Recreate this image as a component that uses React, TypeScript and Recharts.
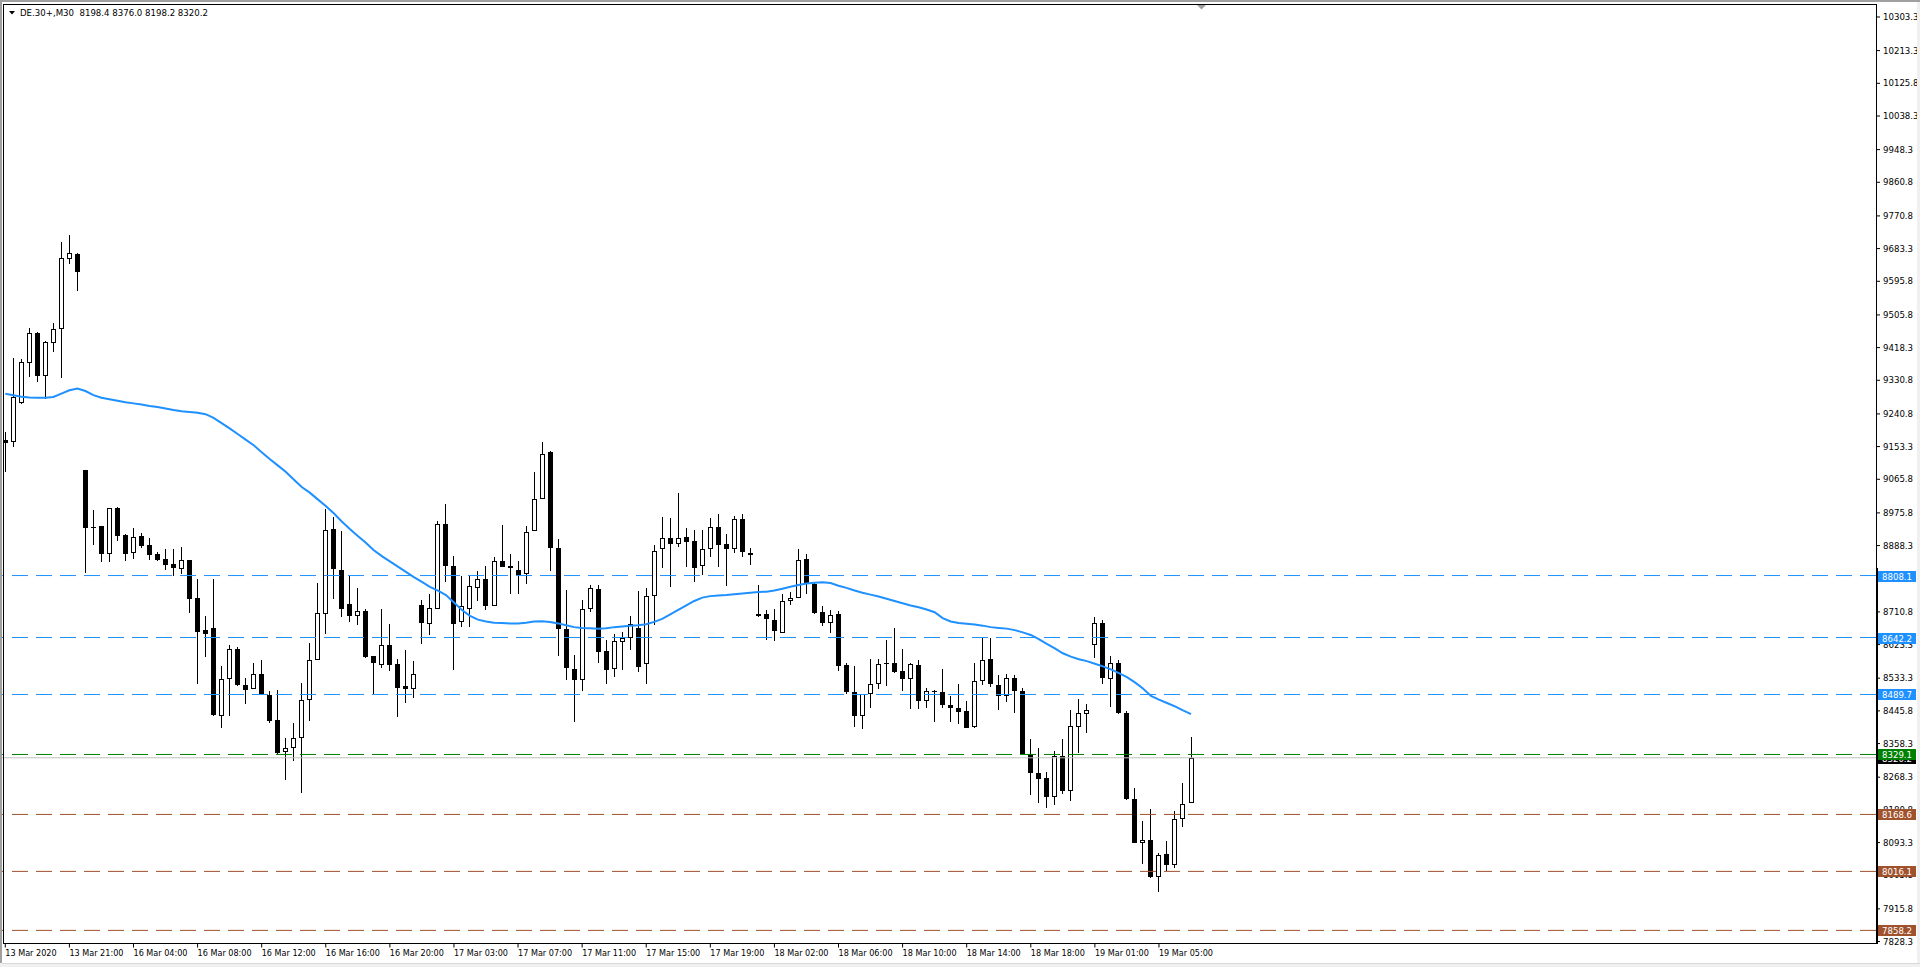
import { ComposedChart, Bar, Line, XAxis, YAxis, ReferenceLine } from "recharts";

// DE.30+ M30 candles, 13 Mar 17:00 .. 19 Mar 07:00
const open = [
  9170.5, 9164.3, 9268.7, 9375.8, 9456.2, 9342.8, 9429.4, 9466.9, 9654.4, 9668.6,
  9090.2, 8938.4, 8940.2, 8867.0, 8990.2, 8916.1, 8869.7, 8915.2, 8889.3, 8865.2,
  8853.6, 8838.5, 8826.9, 8849.1, 8749.1, 8661.6, 8668.8, 8433.1, 8532.2, 8612.5,
  8516.2, 8505.4, 8543.8, 8489.4, 8420.6, 8335.8, 8347.4, 8374.2, 8476.0, 8583.1,
  8706.3, 8932.2, 8822.4, 8733.1, 8700.1, 8712.5, 8592.0, 8569.7, 8623.3, 8572.4,
  8511.7, 8505.4, 8728.6, 8679.5, 8719.7, 8947.3, 8834.9, 8684.0, 8719.7, 8776.0,
  8800.1, 8726.9, 8848.3, 8833.1, 8824.2, 8813.4, 8928.6, 9014.3, 9139.3, 8883.1,
  8664.4, 8559.0, 8529.6, 8717.9, 8773.3, 8607.2, 8559.0, 8631.3, 8642.0, 8668.8,
  8572.4, 8754.5, 8880.4, 8909.8, 8893.8, 8912.5, 8901.8, 8833.1, 8880.4, 8938.4,
  8893.8, 8880.4, 8960.7, 8869.7, 8704.5, 8704.5, 8690.3, 8655.4, 8740.2, 8749.2,
  8853.6, 8786.7, 8709.9, 8681.3, 8704.5, 8568.0, 8497.4, 8432.3, 8490.3, 8518.9,
  8574.2, 8575.1, 8551.9, 8532.3, 8569.7, 8472.4, 8498.3, 8497.4, 8462.6, 8454.6,
  8446.5, 8402.8, 8526.0, 8585.8, 8516.2, 8485.8, 8534.9, 8498.3, 8331.4, 8280.5,
  8267.1, 8215.3, 8324.2, 8231.4, 8402.8, 8438.5, 8623.3, 8682.2, 8532.2, 8575.1,
  8441.2, 8210.9, 8093.0, 8101.1, 8001.1, 8063.6, 8034.1, 8157.3, 8198.4,
];

const high = [
  9192.8, 9389.2, 9386.6, 9469.6, 9458.9, 9435.7, 9483.0, 9699.9, 9719.5, 9670.4,
  9090.2, 8984.8, 8942.0, 8990.2, 8991.0, 8920.6, 8936.6, 8923.2, 8909.8, 8870.6,
  8880.4, 8880.4, 8884.0, 8850.0, 8798.2, 8699.1, 8798.2, 8565.2, 8621.4, 8616.0,
  8533.5, 8575.1, 8583.1, 8498.3, 8501.0, 8374.2, 8414.4, 8520.6, 8628.6, 8789.3,
  8985.7, 8965.2, 8926.8, 8806.3, 8775.9, 8718.8, 8592.0, 8717.9, 8677.7, 8585.8,
  8608.1, 8578.6, 8742.0, 8759.9, 8953.6, 8999.1, 8861.6, 8806.3, 8807.2, 8819.7,
  8833.1, 8857.2, 8942.9, 8865.2, 8846.5, 8940.2, 9085.7, 9164.3, 9141.1, 8905.4,
  8768.8, 8594.7, 8742.0, 8782.2, 8782.2, 8634.9, 8651.0, 8656.3, 8700.9, 8766.1,
  8776.0, 8891.1, 8966.1, 8963.4, 9030.4, 8936.6, 8929.5, 8929.5, 8963.4, 8974.1,
  8920.6, 8967.0, 8972.3, 8883.1, 8782.2, 8715.3, 8719.7, 8759.9, 8764.3, 8880.4,
  8865.2, 8791.1, 8726.0, 8715.3, 8712.6, 8574.2, 8565.3, 8492.1, 8585.8, 8585.8,
  8634.9, 8668.8, 8612.6, 8575.1, 8581.3, 8508.1, 8502.8, 8559.0, 8484.9, 8517.1,
  8471.5, 8575.1, 8642.1, 8641.2, 8541.2, 8543.9, 8541.2, 8508.1, 8371.5, 8347.4,
  8282.3, 8337.6, 8369.8, 8447.4, 8478.7, 8463.5, 8697.4, 8688.5, 8592.0, 8583.1,
  8445.6, 8240.3, 8150.2, 8184.1, 8066.3, 8096.6, 8176.9, 8252.8, 8376.0,
];

const low = [
  9085.7, 9152.7, 9266.9, 9340.1, 9326.7, 9280.3, 9405.3, 9335.7, 9641.0, 9570.5,
  8815.2, 8889.3, 8844.7, 8844.7, 8900.9, 8847.4, 8852.7, 8883.1, 8850.9, 8847.4,
  8824.2, 8808.1, 8811.7, 8708.0, 8517.0, 8590.2, 8431.3, 8400.1, 8432.2, 8511.7,
  8464.0, 8505.4, 8490.3, 8414.4, 8331.4, 8260.0, 8311.7, 8226.0, 8418.9, 8583.1,
  8651.0, 8746.5, 8697.4, 8684.0, 8675.1, 8587.6, 8490.3, 8560.8, 8552.8, 8429.6,
  8467.1, 8480.4, 8624.2, 8648.3, 8719.7, 8791.1, 8554.6, 8670.6, 8670.6, 8740.2,
  8715.2, 8726.9, 8831.3, 8758.1, 8758.1, 8784.9, 8928.6, 9014.3, 8820.6, 8593.0,
  8527.8, 8416.2, 8499.2, 8710.8, 8574.2, 8518.9, 8536.7, 8554.6, 8609.9, 8550.1,
  8518.9, 8676.9, 8829.5, 8777.7, 8884.9, 8831.3, 8791.1, 8809.0, 8858.1, 8831.3,
  8780.4, 8868.8, 8858.1, 8835.8, 8697.4, 8636.7, 8633.1, 8655.4, 8728.6, 8749.2,
  8758.1, 8704.5, 8672.4, 8654.5, 8552.8, 8490.3, 8402.8, 8396.6, 8453.7, 8505.5,
  8512.6, 8547.4, 8499.2, 8450.1, 8450.1, 8453.7, 8416.2, 8453.7, 8416.2, 8411.7,
  8401.0, 8401.0, 8514.4, 8510.0, 8447.4, 8469.7, 8440.3, 8329.6, 8221.6, 8199.3,
  8186.8, 8193.0, 8222.5, 8204.6, 8333.2, 8386.7, 8587.6, 8518.8, 8456.3, 8436.7,
  8208.2, 8092.1, 8035.0, 7999.3, 7960.9, 8016.3, 8025.2, 8135.0, 8198.2,
];

const close = [
  9161.6, 9284.8, 9378.5, 9456.2, 9342.8, 9432.1, 9466.9, 9657.0, 9670.4, 9621.3,
  8936.6, 8936.6, 8867.0, 8990.2, 8914.3, 8867.0, 8911.6, 8887.5, 8864.3, 8849.2,
  8837.6, 8829.5, 8850.0, 8745.5, 8657.2, 8652.7, 8434.0, 8532.2, 8612.5, 8514.4,
  8502.8, 8543.8, 8490.3, 8418.9, 8333.2, 8347.4, 8374.2, 8476.0, 8583.1, 8709.0,
  8929.5, 8825.0, 8719.7, 8700.1, 8712.5, 8590.3, 8574.2, 8623.3, 8568.8, 8507.2,
  8504.6, 8545.6, 8681.3, 8721.5, 8947.3, 8834.0, 8678.6, 8725.9, 8779.5, 8800.1,
  8726.9, 8848.3, 8831.3, 8829.5, 8809.0, 8925.9, 9014.3, 9134.8, 8883.1, 8664.4,
  8561.7, 8529.6, 8719.7, 8776.0, 8603.7, 8556.3, 8632.2, 8642.0, 8679.5, 8563.5,
  8754.0, 8874.1, 8909.8, 8893.8, 8909.8, 8898.2, 8829.5, 8880.4, 8938.4, 8891.1,
  8880.4, 8960.7, 8871.5, 8864.3, 8701.0, 8691.1, 8659.9, 8741.1, 8749.2, 8851.0,
  8788.5, 8708.1, 8681.3, 8703.6, 8566.2, 8496.5, 8432.3, 8492.1, 8518.9, 8572.4,
  8575.1, 8550.1, 8532.3, 8572.4, 8472.4, 8499.2, 8499.2, 8462.6, 8453.7, 8443.0,
  8401.0, 8526.0, 8583.1, 8517.1, 8485.8, 8534.9, 8499.2, 8329.6, 8279.6, 8264.4,
  8215.3, 8324.2, 8231.4, 8404.6, 8441.2, 8449.2, 8682.2, 8534.0, 8574.2, 8440.3,
  8209.1, 8092.1, 8101.1, 8001.1, 8060.9, 8034.1, 8157.3, 8197.5, 8320.2,
];

// moving average as drawn (blue line)
const ma = [
  9295, 9291, 9287, 9285, 9284, 9284, 9286, 9295, 9304, 9309,
  9302, 9291, 9284, 9280, 9276, 9272, 9269, 9266, 9262, 9259,
  9255, 9251, 9248, 9246, 9244, 9240, 9230, 9216, 9202, 9187,
  9172, 9157, 9138, 9120, 9103, 9086, 9065, 9045, 9030, 9012,
  8994, 8975, 8953, 8933, 8914, 8896, 8876, 8860, 8846, 8832,
  8818, 8804, 8791, 8778, 8768, 8756, 8736, 8716, 8700, 8690,
  8685, 8682, 8681, 8680, 8680, 8682, 8685, 8686, 8684, 8680,
  8675, 8670, 8668, 8667, 8666, 8667, 8670, 8672, 8674, 8675,
  8678, 8684, 8692, 8704, 8716, 8728, 8740, 8749, 8753, 8755,
  8756, 8758, 8760, 8762, 8764, 8765, 8768, 8773, 8778, 8783,
  8787, 8789, 8790, 8788, 8781, 8775, 8768, 8762, 8757, 8752,
  8746, 8740, 8734, 8728, 8723, 8717, 8710, 8694, 8685, 8681,
  8679, 8677, 8674, 8670, 8668, 8666, 8662, 8656, 8649, 8638,
  8625, 8613, 8600, 8591, 8584, 8579, 8572, 8565, 8557, 8547,
  8536, 8522, 8506, 8486, 8476, 8467, 8458, 8447, 8437,
];

const tickBars = [0, 8, 16, 24, 32, 40, 48, 56, 64, 72, 80, 88, 96, 104, 112, 120, 128, 136, 144];
const tickLabels = [
  "13 Mar 2020", "13 Mar 21:00", "16 Mar 04:00", "16 Mar 08:00", "16 Mar 12:00",
  "16 Mar 16:00", "16 Mar 20:00", "17 Mar 03:00", "17 Mar 07:00", "17 Mar 11:00",
  "17 Mar 15:00", "17 Mar 19:00", "18 Mar 02:00", "18 Mar 06:00", "18 Mar 10:00",
  "18 Mar 14:00", "18 Mar 18:00", "19 Mar 01:00", "19 Mar 05:00",
];

const priceTicks = [
  10303.3, 10213.3, 10125.8, 10038.3, 9948.3, 9860.8, 9770.8, 9683.3, 9595.8, 9505.8,
  9418.3, 9330.8, 9240.8, 9153.3, 9065.8, 8975.8, 8888.3, 8800.8, 8710.8, 8623.3,
  8533.3, 8445.8, 8358.3, 8268.3, 8180.8, 8093.3, 8005.8, 7915.8, 7828.3,
];

const blueLevels = [8808.1, 8642.2, 8489.7];
const greenLevels = [8329.1];
const brownLevels = [8168.6, 8016.1, 7858.2];
const bidPrice = 8320.2;

const BLUE = "#1e90ff";
const GREEN = "#008000";
const BROWN = "#a0522d";
const FONT = '"DejaVu Sans", Tahoma, sans-serif';
const FS = 8.6;
const SLOTS = 234; // visible bar slots incl. the empty shift area on the right

const rows = Array.from({ length: SLOTS }, (_, i) => ({
  i,
  o: open[i] ?? null,
  h: high[i] ?? null,
  l: low[i] ?? null,
  c: close[i] ?? null,
  ma: ma[i] ?? null,
}));

function levelColor(v: number) {
  if (blueLevels.includes(v)) return BLUE;
  if (greenLevels.includes(v)) return GREEN;
  if (brownLevels.includes(v)) return BROWN;
  if (v === bidPrice) return "#000";
  return null;
}

function Candle(props: any) {
  const { x, y, width, height, payload } = props;
  if (!payload || payload.h == null) return <g />;
  const { o, h, l, c } = payload;
  const k = h > l ? height / (h - l) : 0;
  const cx = Math.floor(x + width / 2) + 0.5;
  const yHi = Math.round(y);
  const yLo = Math.round(y + height);
  const yO = y + (h - o) * k;
  const yC = y + (h - c) * k;
  const top = Math.round(Math.min(yO, yC));
  const bot = Math.round(Math.max(yO, yC));
  const up = c >= o;
  let body;
  if (bot - top <= 1) {
    body = <line x1={cx - 2.5} x2={cx + 2.5} y1={top + 0.5} y2={top + 0.5} stroke="#000" />;
  } else if (up) {
    body = <rect x={cx - 2} y={top + 0.5} width={4} height={bot - top - 1} fill="#fff" stroke="#000" />;
  } else {
    body = <rect x={cx - 2.5} y={top} width={5} height={bot - top} fill="#000" />;
  }
  return (
    <g>
      <line x1={cx} x2={cx} y1={yHi} y2={yLo} stroke="#000" />
      {body}
    </g>
  );
}

function XTick(props: any) {
  const { x, payload } = props;
  const idx = tickBars.indexOf(payload.value);
  return (
    <text x={x} y={953.3} dy="0.36em" textAnchor="start" fontSize={8.1} fontFamily={FONT} fill="#000">
      {tickLabels[idx]}
    </text>
  );
}

function YTick(props: any) {
  const { x, y, payload } = props;
  const v = payload.value as number;
  const col = levelColor(v);
  const label = v.toFixed(1);
  if (col) {
    const yy = Math.round(y);
    return (
      <g>
        <rect x={1878} y={yy - 5} width={38} height={11} fill={col} />
        <text x={1882} y={yy + 0.5} dy="0.36em" fontSize={FS} fontFamily={FONT} fill="#fff">
          {label}
        </text>
      </g>
    );
  }
  return (
    <text x={x} y={y} dy="0.36em" textAnchor="start" fontSize={FS} fontFamily={FONT} fill="#000">
      {label}
    </text>
  );
}

const yTicksShown = [...priceTicks, bidPrice, ...blueLevels, ...greenLevels, ...brownLevels];

export default function App() {
  return (
    <div
      style={{
        position: "absolute",
        left: 0,
        top: 0,
        width: 1920,
        height: 967,
        background: "#fff",
        overflow: "hidden",
      }}
    >
      <ComposedChart
        width={1920}
        height={967}
        data={rows}
        margin={{ top: 4, right: 0, bottom: 0, left: 1.3 }}
      >
        <XAxis
          dataKey="i"
          type="category"
          ticks={tickBars}
          interval={0}
          height={23.5}
          tickSize={4}
          tickMargin={2}
          axisLine={false}
          tickLine={{ stroke: "#000" }}
          tick={XTick}
        />
        <YAxis
          orientation="right"
          type="number"
          domain={[7823.1, 10338.1]}
          allowDataOverflow
          ticks={yTicksShown}
          interval={0}
          width={44}
          tickSize={4}
          tickMargin={3}
          axisLine={false}
          tickLine={{ stroke: "#000" }}
          tick={YTick}
        />
        <ReferenceLine y={bidPrice} stroke="#c0c0c0" strokeWidth={1} />
        {blueLevels.map((v) => (
          <ReferenceLine key={v} y={v} stroke={BLUE} strokeDasharray="16 8" />
        ))}
        {greenLevels.map((v) => (
          <ReferenceLine key={v} y={v} stroke={GREEN} strokeDasharray="16 8" />
        ))}
        {brownLevels.map((v) => (
          <ReferenceLine key={v} y={v} stroke={BROWN} strokeDasharray="16 8" />
        ))}
        <Bar
          dataKey={(d: any) => (d.h == null ? null : [d.l, d.h])}
          barSize={6}
          shape={Candle}
          isAnimationActive={false}
        />
        <Line
          dataKey="ma"
          type="linear"
          stroke={BLUE}
          strokeWidth={2}
          dot={false}
          activeDot={false}
          isAnimationActive={false}
        />
      </ComposedChart>

      <svg
        width={1920}
        height={967}
        style={{ position: "absolute", left: 0, top: 0, pointerEvents: "none" }}
      >
        {/* window edges */}
        <rect x={0} y={0} width={1920} height={2} fill="#a0a0a0" />
        <rect x={0} y={0} width={2} height={967} fill="#a0a0a0" />
        <rect x={1917} y={2} width={3} height={965} fill="#f0f0f0" />
        <rect x={0} y={963} width={1920} height={4} fill="#f0f0f0" />
        <line x1={2} x2={1920} y1={963.5} y2={963.5} stroke="#d8d8d8" />
        {/* chart frame */}
        <line x1={3.5} x2={3.5} y1={4} y2={944} stroke="#000" />
        <line x1={3} x2={1877} y1={4.5} y2={4.5} stroke="#000" />
        <line x1={3} x2={1877} y1={943.5} y2={943.5} stroke="#000" />
        <line x1={1876.5} x2={1876.5} y1={4} y2={944} stroke="#000" />
        <rect x={1876} y={568} width={2} height={376} fill="#000" />
        {/* chart shift marker */}
        <polygon points="1197,5 1206,5 1201.5,9.5" fill="#a0a0a0" />
        {/* title */}
        <polygon points="9,11 15,11 12,14.5" fill="#000" />
        <text
          x={20}
          y={12.7}
          dy="0.36em"
          fontSize={FS}
          fontFamily={FONT}
          fill="#000"
          style={{ whiteSpace: "pre" }}
        >
          {"DE.30+,M30  8198.4 8376.0 8198.2 8320.2"}
        </text>
      </svg>
    </div>
  );
}
